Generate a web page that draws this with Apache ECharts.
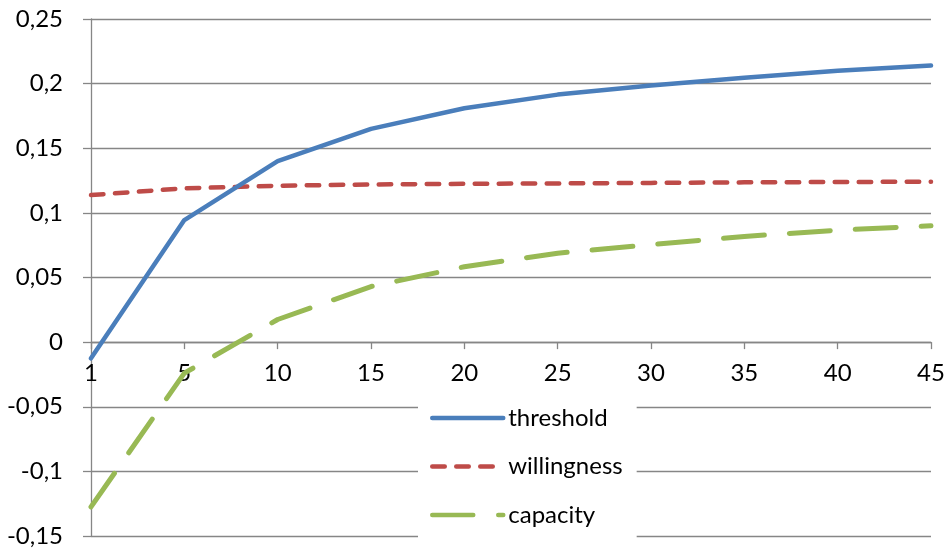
<!DOCTYPE html>
<html>
<head>
<meta charset="utf-8">
<script src="https://cdn.jsdelivr.net/npm/echarts@6/dist/echarts.min.js"></script>
<style>html,body{margin:0;padding:0;background:#fff}#c{width:944px;height:550px}</style>
</head>
<body>
<div id="c"></div>
<script>
var categories = ['1','5','10','15','20','25','30','35','40','45'];
var threshold = [-0.0125, 0.0944, 0.140, 0.165, 0.181, 0.1915, 0.1985, 0.2045, 0.2100, 0.2140];
var willingness = [0.1138, 0.1190, 0.1210, 0.1220, 0.1225, 0.1228, 0.1232, 0.1236, 0.1239, 0.1241];
var capacity = [-0.1275, -0.0240, 0.0175, 0.0430, 0.0583, 0.0688, 0.0755, 0.0818, 0.0866, 0.0900];
var seriesNames = ['threshold', 'willingness', 'capacity'];
var yMin = -0.15, yMax = 0.25, yStep = 0.05;

var FONT = 'Lato';
var FS = 24;
var chart = echarts.init(document.getElementById('c'), null, {renderer: 'canvas'});
function fmt(v) {
  var s = parseFloat(Number(v).toFixed(4)).toString();
  return s.replace('.', ',');
}
chart.setOption({
  animation: false,
  backgroundColor: '#ffffff',
  grid: {left: 91, right: 13, top: 19, bottom: 14, containLabel: false, outerBoundsMode: 'none'},
  xAxis: {
    type: 'category',
    data: categories,
    boundaryGap: false,
    position: 'bottom',
    offset: 0,
    axisLine: {onZero: false, lineStyle: {color: '#868686', width: 1.3}},
    axisTick: {show: true, inside: false, length: 7, alignWithLabel: true, lineStyle: {color: '#868686', width: 1.3}},
    axisLabel: {color: '#000', fontFamily: FONT, fontSize: FS, margin: 19, interval: 0},
    splitLine: {show: false}
  },
  yAxis: {
    type: 'value',
    min: yMin, max: yMax, interval: yStep,
    axisLine: {show: true, lineStyle: {color: '#868686', width: 1.3}},
    axisTick: {show: true, length: 8, lineStyle: {color: '#868686', width: 1.3}},
    axisLabel: {color: '#000', fontFamily: FONT, fontSize: FS, margin: 28, formatter: fmt},
    splitLine: {show: true, lineStyle: {color: '#868686', width: 1.3}}
  },
  legend: {
    orient: 'vertical',
    left: 418, top: 395,
    backgroundColor: '#ffffff',
    padding: [10, 14, 12, 12],
    itemWidth: 71, itemHeight: 2, itemGap: 22.5,
    itemStyle: {opacity: 0},
    lineStyle: {width: 4.5, cap: 'round'},
    textStyle: {color: '#000', fontFamily: FONT, fontSize: FS, lineHeight: 26},
    data: seriesNames
  },
  series: [
    {
      name: seriesNames[0], type: 'line', data: threshold, symbol: 'none', z: 3,
      lineStyle: {color: '#4A7EBB', width: 4.5, cap: 'round', join: 'round'},
      itemStyle: {color: '#4A7EBB'}
    },
    {
      name: seriesNames[1], type: 'line', data: willingness, symbol: 'none', z: 2,
      lineStyle: {color: '#BE4B48', width: 4.5, type: [12.5, 11.5], cap: 'round', join: 'round'},
      itemStyle: {color: '#BE4B48'}
    },
    {
      name: seriesNames[2], type: 'line', data: capacity, symbol: 'none', z: 2,
      lineStyle: {color: '#98B954', width: 5, type: [41, 25], cap: 'round', join: 'round'},
      itemStyle: {color: '#98B954'}
    }
  ]
});
// move the category axis onto y = 0 using the library's own scale
var pZero = chart.convertToPixel({yAxisIndex: 0}, 0);
var pMin = chart.convertToPixel({yAxisIndex: 0}, yMin);
chart.setOption({xAxis: {offset: -(pMin - pZero)}});
</script>
</body>
</html>
